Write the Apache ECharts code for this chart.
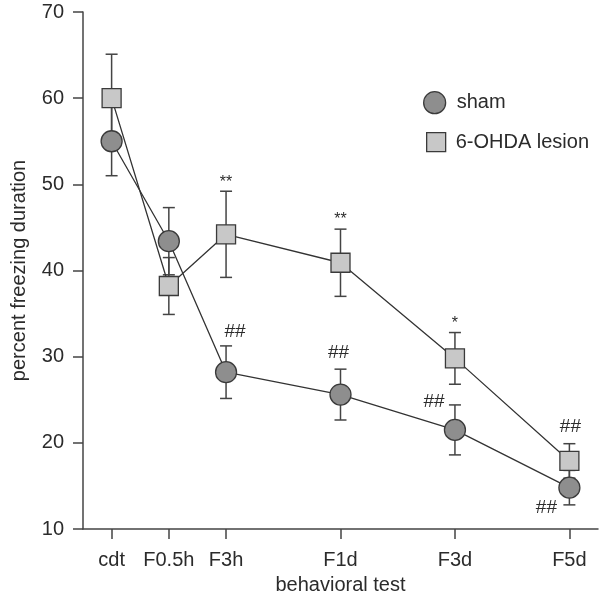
<!DOCTYPE html>
<html>
<head>
<meta charset="utf-8">
<script src="https://cdn.jsdelivr.net/npm/echarts@6/dist/echarts.min.js"></script>
<style>html,body{margin:0;padding:0;background:#fff}#c{width:600px;height:600px}</style>
</head>
<body>
<div id="c"></div>
<script>
// ---- data ----
const tests = ['cdt', 'F0.5h', 'F3h', 'F1d', 'F3d', 'F5d'];
const testPos = [0, 1, 2, 4, 6, 8];
const shamMean = [55.0, 43.4, 28.2, 25.6, 21.5, 14.8];
const shamErr = [4.0, 3.9, 3.05, 2.95, 2.9, 2.0];
const lesionMean = [60.0, 38.2, 44.2, 40.9, 29.8, 17.9];
const lesionErr = [5.1, 3.3, 5.0, 3.9, 3.0, 2.0];
const shamSig = ['', '', '##', '##', '##', '##'];
const lesionSig = ['', '', '**', '**', '*', '##'];
const yTicks = [10, 20, 30, 40, 50, 60, 70];

// ---- layout / style (not data) ----
const FONT = '"Liberation Sans", Arial, Helvetica, sans-serif';
const TXT = '#2b2b2b';
const AX = '#444';
const shamStyle = {color: '#8e8e8e', borderColor: '#3a3a3a', borderWidth: 1.3};
const lesionStyle = {color: '#c8c8c8', borderColor: '#3a3a3a', borderWidth: 1.3};
// annotation anchor: where relative to the error bar (top cap or bottom cap) and pixel offset
const shamSigLayout = [null, null, {at: 'top', dx: 9, dy: -14}, {at: 'top', dx: -2, dy: -16}, {at: 'top', dx: -21, dy: -3}, {at: 'bottom', dx: -23, dy: 3}];
const lesionSigLayout = [null, null, {at: 'top', dx: 0, dy: -9}, {at: 'top', dx: 0, dy: -10}, {at: 'top', dx: 0, dy: -9}, {at: 'top', dx: 1, dy: -17}];

const chart = echarts.init(document.getElementById('c'), null, {renderer: 'canvas'});

function errSeries(name, mean, err) {
  return {
    type: 'custom', name: name + ' err', z: 1, silent: true,
    data: testPos.map((p, i) => [p, mean[i], err[i]]),
    renderItem: function (params, api) {
      const x = api.value(0), m = api.value(1), e = api.value(2);
      const t = api.coord([x, m + e]), b = api.coord([x, m - e]);
      const hw = 6;
      const st = {stroke: AX, lineWidth: 1.5};
      return {type: 'group', children: [
        {type: 'line', shape: {x1: t[0], y1: t[1], x2: b[0], y2: b[1]}, style: st},
        {type: 'line', shape: {x1: t[0] - hw, y1: t[1], x2: t[0] + hw, y2: t[1]}, style: st},
        {type: 'line', shape: {x1: b[0] - hw, y1: b[1], x2: b[0] + hw, y2: b[1]}, style: st}
      ]};
    }
  };
}

function sigSeries(name, mean, err, sig, layout) {
  return {
    type: 'custom', name: name + ' sig', z: 5, silent: true,
    data: testPos.map((p, i) => [p, mean[i], err[i], i]),
    renderItem: function (params, api) {
      const i = api.value(3);
      const s = sig[i], L = layout[i];
      if (!s || !L) return null;
      const x = api.value(0), m = api.value(1), e = api.value(2);
      const c = api.coord([x, L.at === 'top' ? m + e : m - e]);
      const star = s.indexOf('*') >= 0;
      return {
        type: 'text',
        style: {
          text: s, x: c[0] + L.dx, y: c[1] + L.dy,
          align: 'center', verticalAlign: 'middle',
          font: (star ? '16px ' : '19px ') + FONT, fill: TXT
        }
      };
    }
  };
}

const option = {
  animation: false,
  backgroundColor: '#fff',
  grid: {left: 83, right: 2, top: 12, bottom: 71, containLabel: false},
  xAxis: {
    type: 'value', min: -0.5, max: 8.5,
    name: 'behavioral test', nameLocation: 'middle', nameGap: 46,
    nameTextStyle: {fontSize: 20, color: TXT, fontFamily: FONT},
    axisLine: {show: true, onZero: false, lineStyle: {color: AX, width: 1.5}},
    axisTick: {show: true, length: 10, inside: false, customValues: testPos, lineStyle: {color: AX, width: 1.5}},
    axisLabel: {
      customValues: testPos, margin: 21, fontSize: 20, color: TXT, fontFamily: FONT,
      formatter: function (v) { const k = testPos.indexOf(v); return k >= 0 ? tests[k] : ''; }
    },
    splitLine: {show: false}
  },
  yAxis: {
    type: 'value', min: 10, max: 70, interval: 10,
    name: 'percent freezing duration', nameLocation: 'middle', nameGap: 54,
    nameTextStyle: {fontSize: 20, color: TXT, fontFamily: FONT},
    axisLine: {show: true, onZero: false, lineStyle: {color: AX, width: 1.5}},
    axisTick: {show: true, length: 10, inside: false, lineStyle: {color: AX, width: 1.5}},
    axisLabel: {margin: 19, fontSize: 20, color: TXT, fontFamily: FONT,
      formatter: function (v) { return yTicks.indexOf(v) >= 0 ? String(v) : ''; }},
    splitLine: {show: false}
  },
  legend: [
    {data: [{name: 'sham', icon: 'circle', itemStyle: shamStyle}], left: 423, top: 91,
     itemWidth: 22, itemHeight: 22, padding: 0, selectedMode: false,
     textStyle: {fontSize: 20, color: TXT, fontFamily: FONT, padding: [0, 0, 0, 6]}},
    {data: [{name: '6-OHDA lesion', icon: 'rect', itemStyle: lesionStyle}], left: 426, top: 132,
     itemWidth: 19, itemHeight: 19, padding: 0, selectedMode: false,
     textStyle: {fontSize: 20, color: TXT, fontFamily: FONT, padding: [0, 0, 0, 5]}}
  ],
  series: [
    errSeries('sham', shamMean, shamErr),
    errSeries('lesion', lesionMean, lesionErr),
    {
      type: 'line', name: 'sham', z: 3,
      data: testPos.map((p, i) => [p, shamMean[i]]),
      symbol: 'circle', symbolSize: 21, showSymbol: true,
      itemStyle: shamStyle,
      lineStyle: {color: '#333', width: 1.3},
      emphasis: {disabled: true}
    },
    {
      type: 'line', name: '6-OHDA lesion', z: 3,
      data: testPos.map((p, i) => [p, lesionMean[i]]),
      symbol: 'rect', symbolSize: 19, showSymbol: true,
      itemStyle: lesionStyle,
      lineStyle: {color: '#333', width: 1.3},
      emphasis: {disabled: true}
    },
    sigSeries('sham', shamMean, shamErr, shamSig, shamSigLayout),
    sigSeries('lesion', lesionMean, lesionErr, lesionSig, lesionSigLayout)
  ]
};
chart.setOption(option);
</script>
</body>
</html>
